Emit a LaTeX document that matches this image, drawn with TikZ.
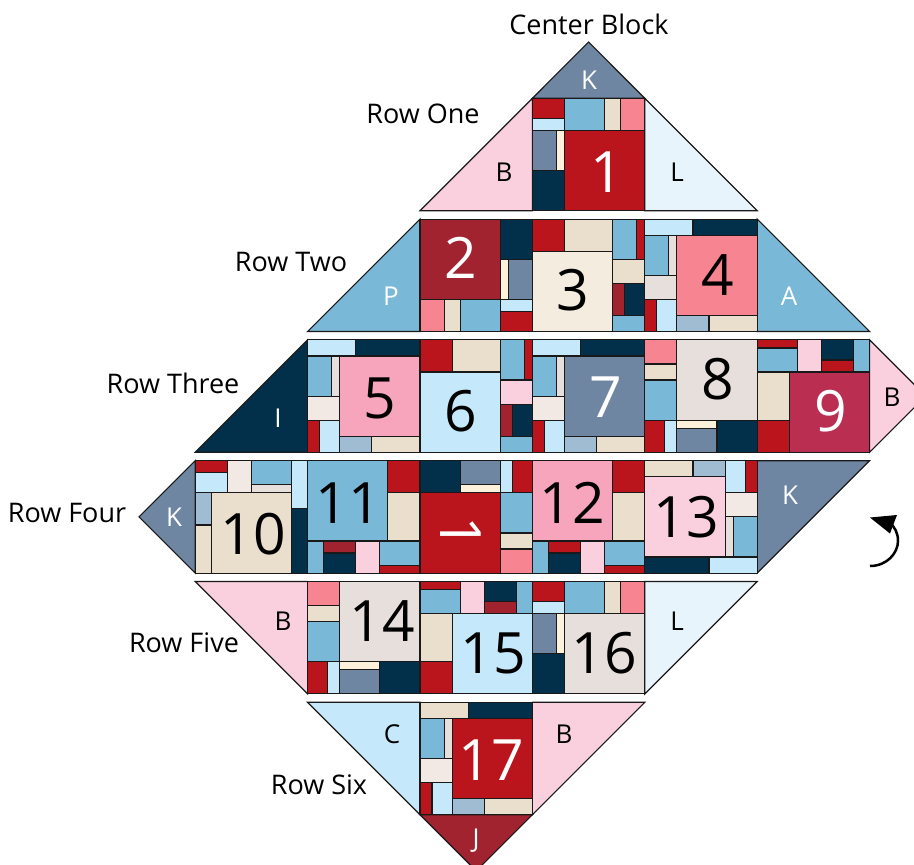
\documentclass[tikz,border=0pt]{standalone}
\usepackage{fontspec}
\setmainfont{Open Sans}
\definecolor{cR}{HTML}{BA141D}
\definecolor{cD}{HTML}{A1232F}
\definecolor{cN}{HTML}{02304A}
\definecolor{cB}{HTML}{79B8D6}
\definecolor{cL}{HTML}{C5E8FA}
\definecolor{cT}{HTML}{E9DFCC}
\definecolor{cS}{HTML}{F68591}
\definecolor{cK}{HTML}{6F86A2}
\definecolor{cC}{HTML}{FDF1DC}
\definecolor{cG}{HTML}{E7DFDB}
\definecolor{cH}{HTML}{F2E9E4}
\definecolor{cE}{HTML}{A0BCD3}
\definecolor{cO}{HTML}{F6A5BC}
\definecolor{cP}{HTML}{FBD0DE}
\definecolor{cM}{HTML}{BA2E52}
\definecolor{cW}{HTML}{E7F4FB}
\definecolor{cI}{HTML}{F5ECE0}
\tikzset{
  patch/.style={draw=black!90,line width=1.15pt,line join=miter},
  tri/.style={draw=black!90,line width=1.15pt,line join=miter},
  rowlabel/.style={font=\fontsize{27}{27}\selectfont,text=black,inner sep=0pt},
  letter/.style={font=\fontsize{26}{26}\selectfont,inner sep=0pt},
  num/.style={font=\fontsize{57}{57}\selectfont,inner sep=0pt}
}
% one patch, in block coordinates (0..112 from the top left corner)
\newcommand{\pc}[5]{\path[patch,fill=c#1] ({(#2-56)*1.0036},{(#3-56)*1.0036}) rectangle ({(#4-56)*1.0036},{(#5-56)*1.0036});}
\newcommand{\blkA}[5]{%
 \begin{scope}[shift={(#1,#2)},rotate=#3]
 \pc{#4}{32}{32}{112}{112}
 \blkAb#5\relax
 \end{scope}}
\def\blkAb#1#2#3#4#5#6#7#8#9\relax{%
 \pc{#1}{0}{0}{32}{20}\pc{#2}{0}{20}{32}{32}\pc{#3}{32}{0}{72}{32}\pc{#4}{72}{0}{88}{32}%
 \pc{#5}{88}{0}{112}{32}\pc{#6}{0}{32}{24}{72}\pc{#7}{24}{32}{32}{72}\pc{#8}{0}{72}{32}{112}}
\newcommand{\blkB}[5]{%
 \begin{scope}[shift={(#1,#2)},rotate=#3]
 \pc{#4}{0}{32}{80}{112}
 \blkBb#5\relax
 \end{scope}}
\def\blkBb#1#2#3#4#5#6#7#8#9\relax{%
 \pc{#1}{0}{0}{32}{32}\pc{#2}{32}{0}{80}{32}\pc{#3}{80}{0}{104}{40}\pc{#4}{104}{0}{112}{40}%
 \pc{#5}{80}{40}{112}{64}\pc{#6}{80}{64}{92}{96}\pc{#7}{92}{64}{112}{96}\pc{#8}{80}{96}{112}{112}}
\newcommand{\blkC}[5]{%
 \begin{scope}[shift={(#1,#2)},rotate=#3]
 \pc{#4}{32}{16}{112}{96}
 \blkCb#5\relax
 \end{scope}}
\def\blkCb#1#2#3#4#5#6#7#8#9\relax{%
 \pc{#1}{0}{0}{48}{16}\pc{#2}{48}{0}{112}{16}\pc{#3}{0}{16}{24}{56}\pc{#4}{24}{16}{32}{56}%
 \pc{#5}{0}{56}{32}{80}\pc{#6}{0}{80}{12}{112}\pc{#7}{12}{80}{32}{112}%
 \pc{#8}{32}{96}{64}{112}\pc{#9}{64}{96}{112}{112}}
\begin{document}
\begin{tikzpicture}[x=1pt,y=-1pt]
\useasboundingbox (0,0) rectangle (914,865);
\clip (0,0) rectangle (914,865);
\def\Xa{251.4}\def\Xb{363.8}\def\Xc{476.2}\def\Xd{588.6}\def\Xe{701.0}\def\Xf{813.4}
\def\Ya{154.5}\def\Yb{275.3}\def\Yc{396.1}\def\Yd{516.9}\def\Ye{637.7}\def\Yf{758.5}
% triangles
\path[tri,fill=cK] (532.4,98.3) -- (588.6,42) -- (644.8,98.3) -- cycle;
\path[tri,fill=cP] (420,210.7) -- (532.4,98.3) -- (532.4,210.7) -- cycle;
\path[tri,fill=cW] (644.8,98.3) -- (757.2,210.7) -- (644.8,210.7) -- cycle;
\path[tri,fill=cB] (307.6,331.5) -- (420,219.1) -- (420,331.5) -- cycle;
\path[tri,fill=cB] (757.2,219.1) -- (869.6,331.5) -- (757.2,331.5) -- cycle;
\path[tri,fill=cN] (195.2,452.3) -- (307.6,339.9) -- (307.6,452.3) -- cycle;
\path[tri,fill=cP] (869.6,339.9) -- (925.8,396.1) -- (869.6,452.3) -- cycle;
\path[tri,fill=cK] (195.2,460.7) -- (139,516.9) -- (195.2,573.1) -- cycle;
\path[tri,fill=cK] (757.2,460.7) -- (869.6,460.7) -- (757.2,573.1) -- cycle;
\path[tri,fill=cP] (195.2,581.5) -- (307.6,581.5) -- (307.6,693.9) -- cycle;
\path[tri,fill=cW] (644.8,581.5) -- (757.2,581.5) -- (644.8,693.9) -- cycle;
\path[tri,fill=cL] (307.6,702.3) -- (420,702.3) -- (420,814.7) -- cycle;
\path[tri,fill=cP] (532.4,702.3) -- (644.8,702.3) -- (532.4,814.7) -- cycle;
\path[tri,fill=cD] (420,814.7) -- (532.4,814.7) -- (476.2,870.9) -- cycle;
% blocks
\blkA{\Xd}{\Ya}{0}{R}{RLBTSKCN}
\blkA{\Xc}{\Yb}{180}{D}{RLBTSKCN}
\blkB{\Xd}{\Yb}{0}{I}{RTBRTDNB}
\blkC{\Xe}{\Yb}{0}{S}{LNBGGRLET}
\blkC{\Xb}{\Yc}{0}{O}{LNBGHRLET}
\blkB{\Xc}{\Yc}{0}{L}{RTBRPDNB}
\blkC{\Xd}{\Yc}{0}{K}{LNBGHRLET}
\blkA{\Xe}{\Yc}{90}{G}{RLBTSKCN}
\blkB{\Xf}{\Yc}{90}{M}{RTBRPRNB}
\blkC{\Xa}{\Yd}{-90}{T}{LNBGHRLET}
\blkB{\Xb}{\Yd}{-90}{B}{RTBRPDNB}
\blkA{\Xc}{\Yd}{-90}{R}{RLBTSKCN}
\blkB{\Xd}{\Yd}{-90}{O}{RTBRPRNB}
\blkC{\Xe}{\Yd}{180}{P}{LNBGHRLET}
\blkA{\Xb}{\Ye}{90}{G}{RLBTSKCN}
\blkB{\Xc}{\Ye}{90}{L}{RTBRPDNB}
\blkA{\Xd}{\Ye}{0}{G}{RLBTSKCN}
\blkC{\Xc}{\Yf}{0}{R}{TNBGHRLET}
% numbers
\node[num,text=white] (n1) at (606.5,172) {1};
\node[num,text=white] (n2) at (461,258) {2};
\node[num] (n3) at (573,290) {3};
\node[num] (n4) at (718,275) {4};
\node[num] (n5) at (380,398) {5};
\node[num] (n6) at (461,411) {6};
\node[num,text=white] (n7) at (606,397) {7};
\node[num] (n8) at (718,379) {8};
\node[num,text=white] (n9) at (831,411) {9};
\node[num] (n10) at (253,534) {10};
\node[num] (n11) at (348,503) {11};
\node[num,text=white,rotate=-90] (nc) at (461,533) {1};
\node[num] (n12) at (572,503) {12};
\node[num] (n13) at (686,517) {13};
\node[num] (n14) at (382,621) {14};
\node[num] (n15) at (493,653) {15};
\node[num] (n16) at (604,653) {16};
\node[num,text=white] (n17) at (491,760) {17};
% letters
\node[letter,text=white] (lk1) at (589,80) {K};
\node[letter] (lb1) at (504,172) {B};
\node[letter] (ll1) at (677,172) {L};
\node[letter,text=white] (lp) at (391,296) {P};
\node[letter,text=white] (la) at (789,296) {A};
\node[letter,text=white] (li) at (278,418) {I};
\node[letter] (lb2) at (892,397) {B};
\node[letter,text=white] (lk2) at (174,517) {K};
\node[letter,text=white] (lk3) at (790,495) {K};
\node[letter] (lb3) at (283,621) {B};
\node[letter] (ll2) at (677,621) {L};
\node[letter] (lc) at (392,734) {C};
\node[letter] (lb4) at (564,734) {B};
\node[letter,text=white] (lj) at (476,841) {J};
% row labels
\node[rowlabel] (center) at (589,24) {Center Block};
\node[rowlabel] (r1) at (423,114) {Row One};
\node[rowlabel] (r2) at (291,262) {Row Two};
\node[rowlabel] (r3) at (173,383) {Row Three};
\node[rowlabel] (r4) at (67,513) {Row Four};
\node[rowlabel] (r5) at (184,643) {Row Five};
\node[rowlabel] (r6) at (319,785) {Row Six};
% turn arrow
\draw[line width=2.5pt,black] (870,566) .. controls (887,566) and (898,553) .. (898,541) .. controls (898,533) and (895,527) .. (889,522);
\fill[black] (870,517.5) -- (897,515) -- (890,533.5) -- cycle;
\end{tikzpicture}
\end{document}
